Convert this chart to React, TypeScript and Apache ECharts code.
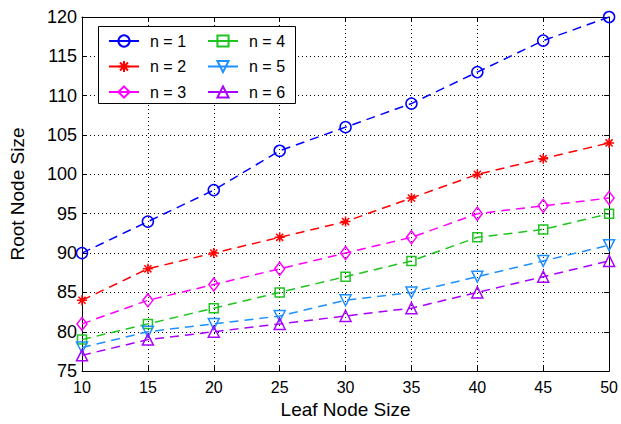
import React, { useEffect, useRef } from "react";
import * as echarts from "echarts";

const leafSizes = [10, 15, 20, 25, 30, 35, 40, 45, 50];
const seriesNames = ["n = 1", "n = 2", "n = 3", "n = 4", "n = 5", "n = 6"];
const n1 = [90, 94, 98, 103, 106, 109, 113, 117, 120];
const n2 = [84, 88, 90, 92, 94, 97, 100, 102, 104];
const n3 = [81, 84, 86, 88, 90, 92, 95, 96, 97];
const n4 = [79, 81, 83, 85, 87, 89, 92, 93, 95];
const n5 = [78, 80, 81, 82, 84, 85, 87, 89, 91];
const n6 = [77, 79, 80, 81, 82, 83, 85, 87, 89];
const seriesValues = [n1, n2, n3, n4, n5, n6];

const colors = ["#0000ff", "#ff0000", "#ff00ff", "#1fc41f", "#1e90ff", "#aa00ff"];
const asterisk = "path://M0,-1L0,1M-1,0L1,0M-0.71,-0.71L0.71,0.71M-0.71,0.71L0.71,-0.71";
const symbols = ["circle", asterisk, "diamond", "rect", "triangle", "triangle"];
const symbolSizes: any[] = [11, 10, [10, 13], 9, 11, 11];
const symbolRotates = [0, 0, 0, 0, 180, 0];

const FONT = "'Liberation Sans', Arial, Helvetica, sans-serif";

export default function App() {
  const ref = useRef<HTMLDivElement>(null);
  useEffect(() => {
    if (!ref.current) return;
    const chart = echarts.init(ref.current, undefined, { renderer: "svg" });
    const axisCommon = {
      type: "value" as const,
      axisLine: { show: true, lineStyle: { color: "#000", width: 1 } },
      axisTick: { show: true, inside: true, length: 5, lineStyle: { color: "#000" } },
    };
    const series = seriesValues.map((vals, i) => ({
      name: seriesNames[i],
      type: "line",
      xAxisIndex: 0,
      yAxisIndex: 0,
      data: leafSizes.map((x, j) => [x, vals[j]]),
      symbol: symbols[i],
      symbolSize: symbolSizes[i],
      symbolRotate: symbolRotates[i],
      showAllSymbol: true,
      lineStyle: { color: colors[i], width: 1.5, type: [9, 6] },
      itemStyle: { color: "rgba(0,0,0,0)", borderColor: colors[i], borderWidth: 1.5 },
      emphasis: { disabled: true },
      z: 2,
    }));
    const legendCommon = {
      orient: "vertical" as const,
      top: 33,
      padding: 0,
      itemWidth: 30,
      itemHeight: 14,
      itemGap: 9.5,
      selectedMode: false,
      lineStyle: { type: "solid" as const },
      textStyle: { fontSize: 16, color: "#000", fontFamily: FONT, padding: [0, 0, 0, 6] },
      z: 10,
    };
    chart.setOption({
      animation: false,
      backgroundColor: "#fff",
      grid: { left: 78, top: 17, right: 10, bottom: 51, containLabel: false },
      xAxis: [
        {
          ...axisCommon,
          min: 10,
          max: 50,
          interval: 5,
          position: "bottom",
          name: "Leaf Node Size",
          nameLocation: "middle",
          nameGap: 28,
          nameTextStyle: { fontSize: 19, color: "#000", fontFamily: FONT },
          axisLabel: { fontSize: 16, color: "#000", fontFamily: FONT, margin: 8 },
          splitLine: { show: true, lineStyle: { color: "#000", width: 1, type: [1, 3] } },
        },
        {
          ...axisCommon,
          min: 10,
          max: 50,
          interval: 5,
          position: "top",
          axisLabel: { show: false },
          splitLine: { show: false },
        },
      ],
      yAxis: [
        {
          ...axisCommon,
          min: 75,
          max: 120,
          interval: 5,
          position: "left",
          name: "Root Node Size",
          nameLocation: "middle",
          nameGap: 55,
          nameTextStyle: { fontSize: 19, color: "#000", fontFamily: FONT },
          axisLabel: { fontSize: 18, color: "#000", fontFamily: FONT, margin: 5 },
          splitLine: { show: true, lineStyle: { color: "#000", width: 1, type: [1, 3] } },
        },
        {
          ...axisCommon,
          min: 75,
          max: 120,
          interval: 5,
          position: "right",
          axisLabel: { show: false },
          splitLine: { show: false },
        },
      ],
      legend: [
        { ...legendCommon, left: 108, data: seriesNames.slice(0, 3) },
        { ...legendCommon, left: 207, data: seriesNames.slice(3, 6) },
      ],
      graphic: [
        {
          type: "rect",
          z: 5,
          shape: { x: 98.5, y: 26.5, width: 197, height: 77 },
          style: { fill: "#fff", stroke: "#000", lineWidth: 1 },
        },
      ],
      series,
    });
    return () => chart.dispose();
  }, []);
  return (
    <div
      ref={ref}
      style={{ position: "absolute", left: 0, top: 0, width: 621, height: 424 }}
    />
  );
}
